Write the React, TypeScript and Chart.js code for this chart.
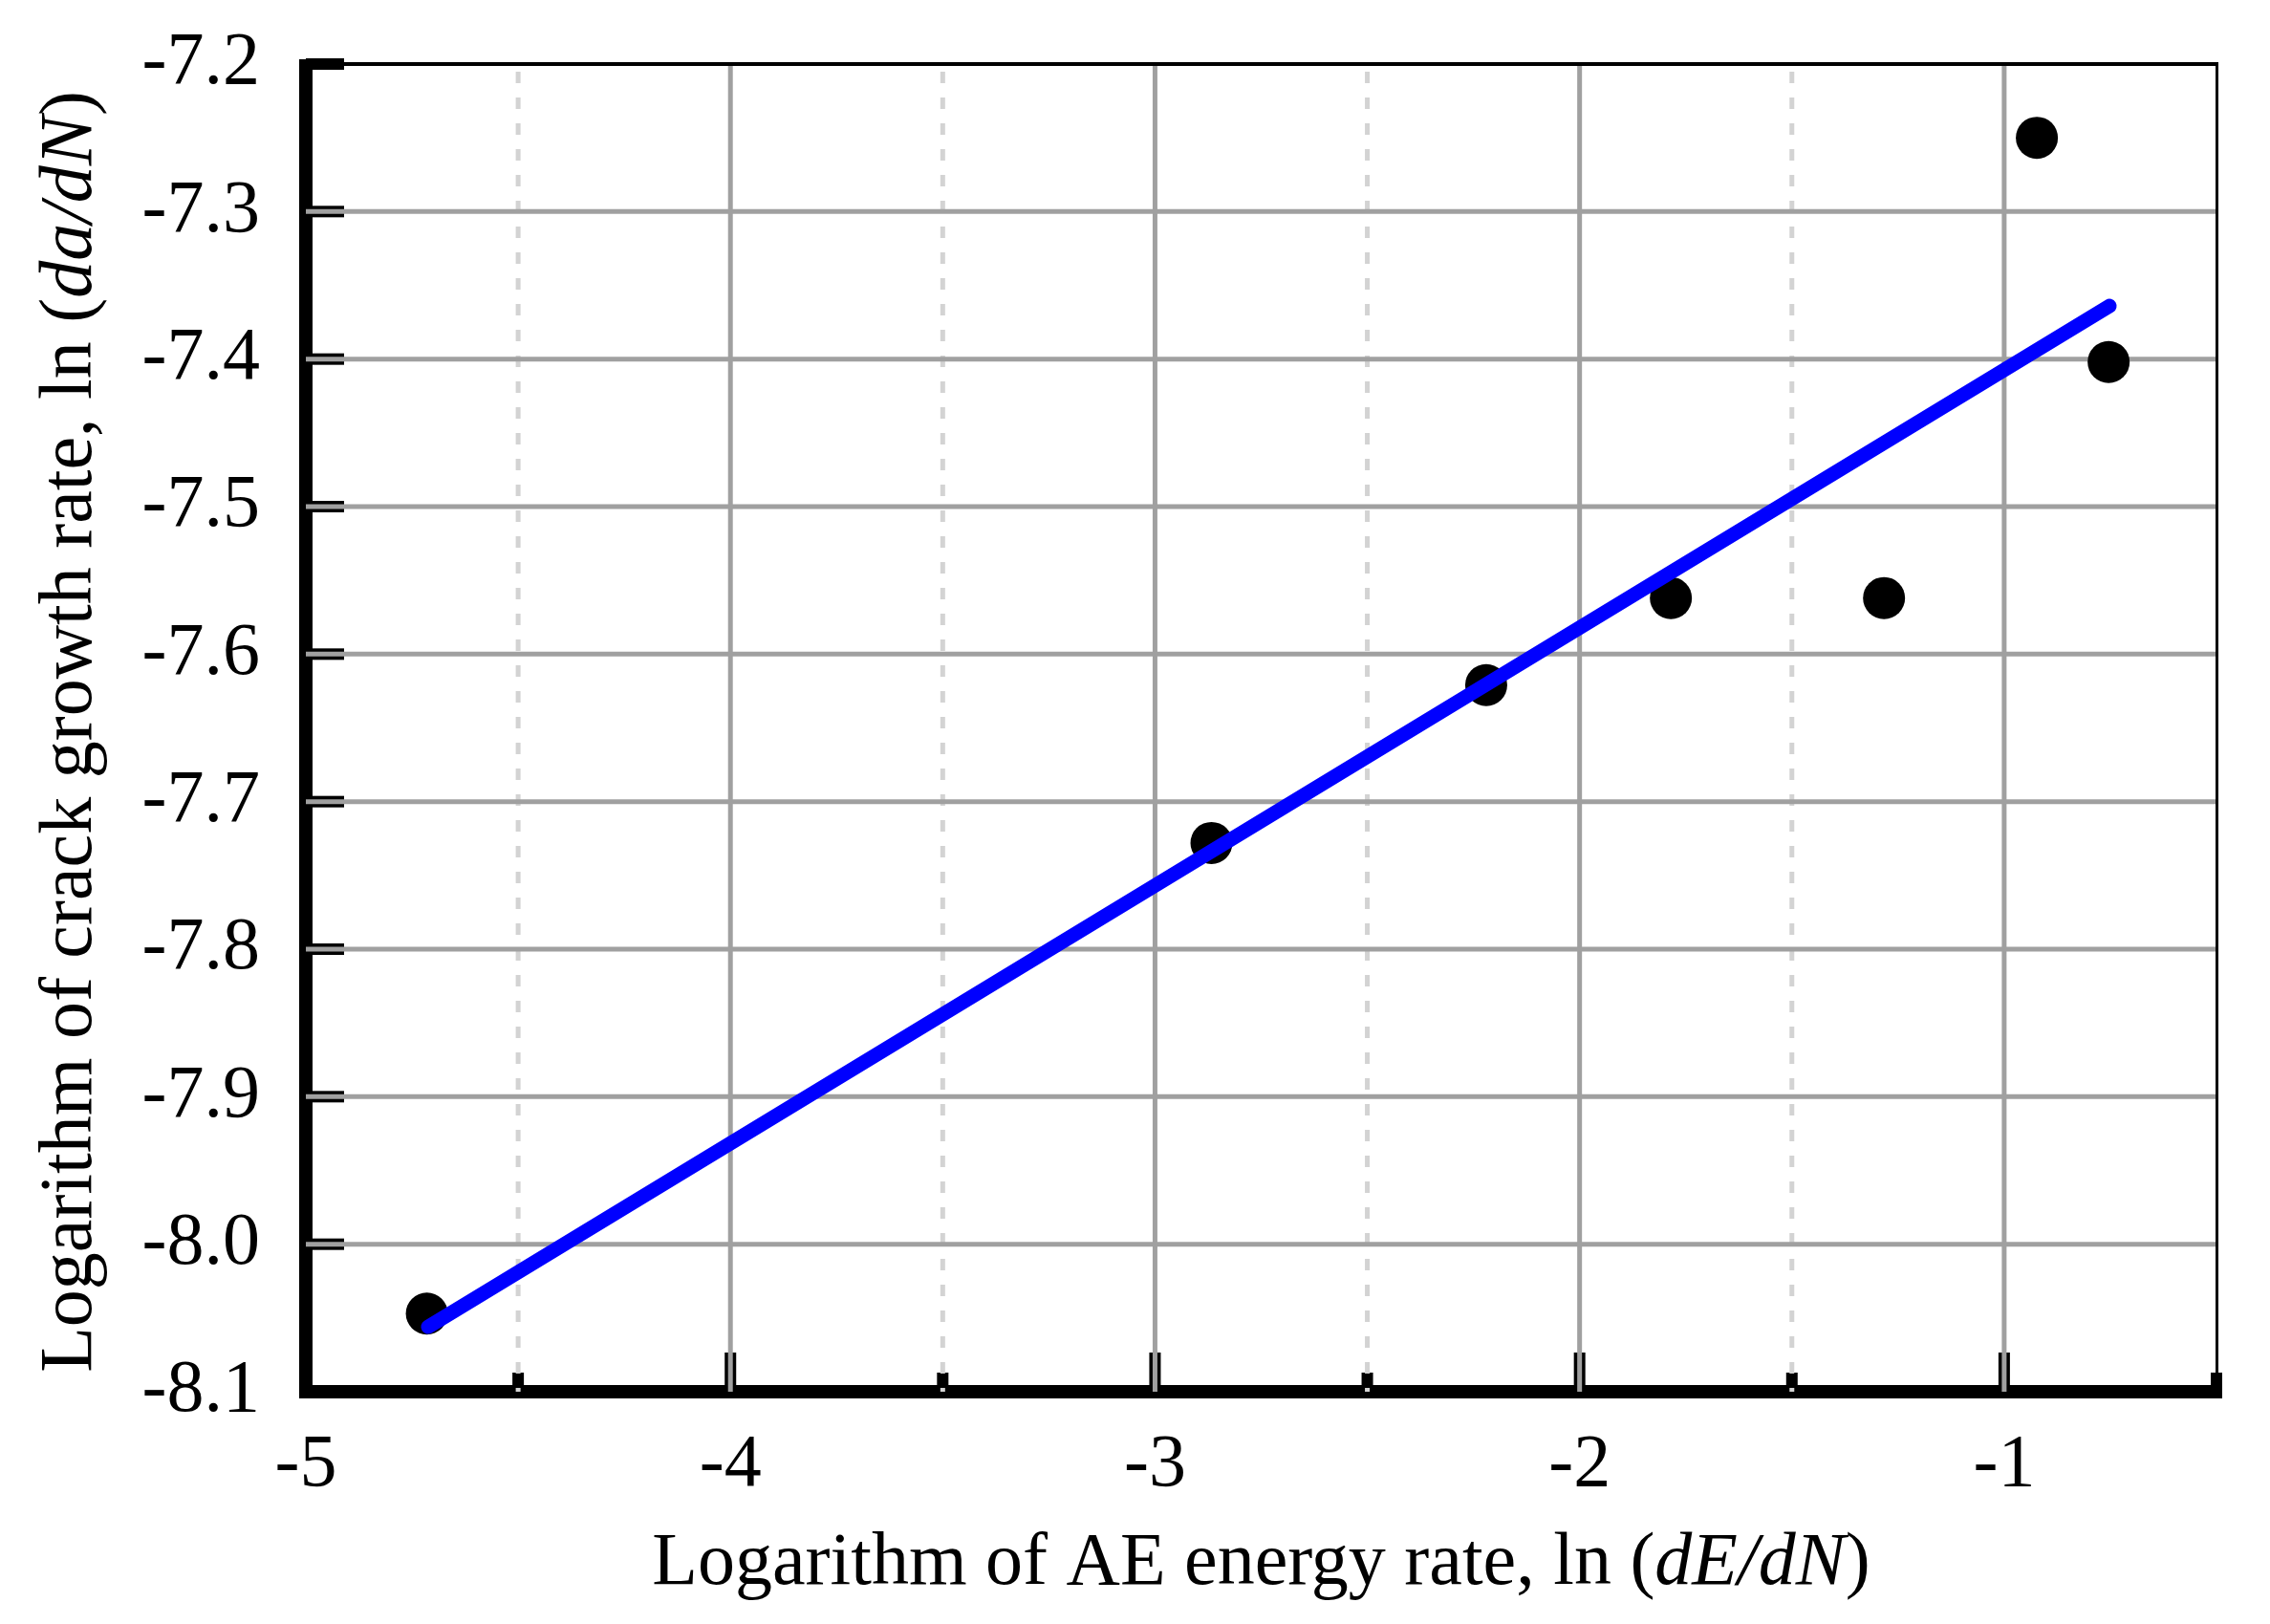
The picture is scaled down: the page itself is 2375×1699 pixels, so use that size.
import React, { useEffect, useRef } from "react";
import { Chart, registerables } from "chart.js";

Chart.register(...registerables);

// ---- data ----
const POINT_X = [-4.715, -2.867, -2.22, -1.785, -1.283, -0.923, -0.754];
const POINT_Y = [-8.047, -7.728, -7.621, -7.562, -7.562, -7.25, -7.402];
const FIT_X = [-4.712, -0.752];
const FIT_Y = [-8.056, -7.364];
const X_TICKS = [-5, -4, -3, -2, -1];
const X_MINOR = [-4.5, -3.5, -2.5, -1.5, -0.5];
const Y_TICKS = [-8.1, -8.0, -7.9, -7.8, -7.7, -7.6, -7.5, -7.4, -7.3, -7.2];
const X_RANGE = [-5, -0.5];
const Y_RANGE = [-8.1, -7.2];
const X_TITLE: [string, boolean][] = [
  ["Logarithm of AE energy rate, ln (", false],
  ["dE/dN", true],
  [")", false],
];
const Y_TITLE: [string, boolean][] = [
  ["Logarithm of crack growth rate, ln (", false],
  ["da/dN", true],
  [")", false],
];

const FONT = "'Liberation Serif', 'Times New Roman', serif";
const FONT_SIZE = 78;

function drawRich(ctx: CanvasRenderingContext2D, parts: [string, boolean][], size: number) {
  const widths = parts.map(([t, it]) => {
    ctx.font = `${it ? "italic " : ""}${size}px ${FONT}`;
    return ctx.measureText(t).width;
  });
  const total = widths.reduce((a, b) => a + b, 0);
  let x = -total / 2;
  ctx.textAlign = "left";
  ctx.textBaseline = "alphabetic";
  ctx.fillStyle = "#000";
  parts.forEach(([t, it], i) => {
    ctx.font = `${it ? "italic " : ""}${size}px ${FONT}`;
    ctx.fillText(t, x, 0);
    x += widths[i];
  });
}

const framePlugin = {
  id: "frame",
  beforeDatasetsDraw(chart: any) {
    const { ctx, chartArea: ca, scales } = chart;
    const xs = scales.x;
    const ys = scales.y;
    ctx.save();
    ctx.fillStyle = "#000";
    // tick marks (inside)
    Y_TICKS.forEach((v) => {
      const py = ys.getPixelForValue(v);
      ctx.fillRect(ca.left, py - 6, 40, 12);
    });
    X_TICKS.forEach((v) => {
      const px = xs.getPixelForValue(v);
      ctx.fillRect(px - 6, ca.bottom - 41, 12, 41);
    });
    X_MINOR.forEach((v) => {
      const px = xs.getPixelForValue(v);
      ctx.fillRect(px - 6, ca.bottom - 20, 12, 20);
    });
    // thick axes
    ctx.fillRect(ca.left - 7, ca.top - 5, 14, ca.bottom - ca.top + 12);
    ctx.fillRect(ca.left - 7, ca.bottom - 7, ca.right - ca.left + 13, 14);

    // grid lines
    ctx.lineWidth = 5;
    ctx.strokeStyle = "#d3d3d3";
    ctx.setLineDash([12, 15]);
    X_MINOR.forEach((v) => {
      if (v >= X_RANGE[1]) return;
      const px = xs.getPixelForValue(v);
      ctx.beginPath();
      ctx.moveTo(px, ca.top + 8);
      ctx.lineTo(px, ca.bottom);
      ctx.stroke();
    });
    ctx.setLineDash([]);
    ctx.strokeStyle = "#a0a0a0";
    X_TICKS.forEach((v) => {
      if (v <= X_RANGE[0]) return;
      const px = xs.getPixelForValue(v);
      ctx.beginPath();
      ctx.moveTo(px, ca.top);
      ctx.lineTo(px, ca.bottom);
      ctx.stroke();
    });
    Y_TICKS.forEach((v) => {
      if (v <= Y_RANGE[0] + 1e-9 || v >= Y_RANGE[1] - 1e-9) return;
      const py = ys.getPixelForValue(v);
      ctx.beginPath();
      ctx.moveTo(ca.left, py);
      ctx.lineTo(ca.right, py);
      ctx.stroke();
    });
    // thin top / right border
    ctx.fillStyle = "#000";
    ctx.fillRect(ca.left, ca.top - 2, ca.right - ca.left + 2, 4);
    ctx.fillRect(ca.right - 1, ca.top - 2, 3, ca.bottom - ca.top + 2);
    ctx.restore();
  },
  afterDraw(chart: any) {
    const { ctx, chartArea: ca } = chart;
    ctx.save();
    ctx.translate((ca.left + ca.right) / 2, ca.bottom + 201);
    drawRich(ctx, X_TITLE, FONT_SIZE);
    ctx.restore();
    ctx.save();
    ctx.translate(95, (ca.top + ca.bottom) / 2 + 4);
    ctx.rotate(-Math.PI / 2);
    drawRich(ctx, Y_TITLE, FONT_SIZE);
    ctx.restore();
  },
};

export default function App() {
  const ref = useRef<HTMLCanvasElement | null>(null);
  useEffect(() => {
    if (!ref.current) return;
    const chart = new Chart(ref.current, {
      type: "scatter",
      data: {
        datasets: [
          {
            type: "line" as any,
            data: FIT_X.map((x, i) => ({ x, y: FIT_Y[i] })),
            borderColor: "#0000ff",
            borderWidth: 15,
            borderCapStyle: "round",
            pointRadius: 0,
            showLine: true,
            fill: false,
          } as any,
          {
            type: "scatter",
            data: POINT_X.map((x, i) => ({ x, y: POINT_Y[i] })),
            backgroundColor: "#000",
            borderWidth: 0,
            pointRadius: 22,
            pointHoverRadius: 22,
          },
        ],
      },
      options: {
        responsive: false,
        animation: false,
        devicePixelRatio: 1,
        layout: { padding: { top: 67, right: 56, left: 0, bottom: 0 } },
        plugins: {
          legend: { display: false },
          tooltip: { enabled: false },
          title: { display: false },
        },
        scales: {
          x: {
            type: "linear",
            min: X_RANGE[0],
            max: X_RANGE[1],
            grid: { display: false, drawTicks: false },
            border: { display: false },
            afterBuildTicks: (s: any) => {
              s.ticks = X_TICKS.map((v) => ({ value: v }));
            },
            afterFit: (s: any) => {
              s.height = 243;
              s.paddingLeft = 0;
              s.paddingRight = 0;
              s.paddingTop = 0;
              s.paddingBottom = 0;
            },
            ticks: {
              font: { family: FONT, size: FONT_SIZE },
              color: "#000",
              padding: 31,
              maxRotation: 0,
              autoSkip: false,
              callback: (v: any) => String(v),
            },
          },
          y: {
            type: "linear",
            min: Y_RANGE[0],
            max: Y_RANGE[1],
            grid: { display: false, drawTicks: false },
            border: { display: false },
            afterBuildTicks: (s: any) => {
              s.ticks = Y_TICKS.map((v) => ({ value: v }));
            },
            afterFit: (s: any) => {
              s.width = 320;
              s.paddingLeft = 0;
              s.paddingRight = 0;
              s.paddingTop = 0;
              s.paddingBottom = 0;
            },
            ticks: {
              font: { family: FONT, size: FONT_SIZE },
              color: "#000",
              padding: 48,
              autoSkip: false,
              callback: (v: any) => Number(v).toFixed(1),
            },
          },
        },
      } as any,
      plugins: [framePlugin],
    });
    return () => chart.destroy();
  }, []);
  return (
    <div style={{ position: "absolute", left: 0, top: 0, width: 2375, height: 1699, background: "#fff" }}>
      <canvas ref={ref} width={2375} height={1699} style={{ display: "block", width: 2375, height: 1699 }} />
    </div>
  );
}
